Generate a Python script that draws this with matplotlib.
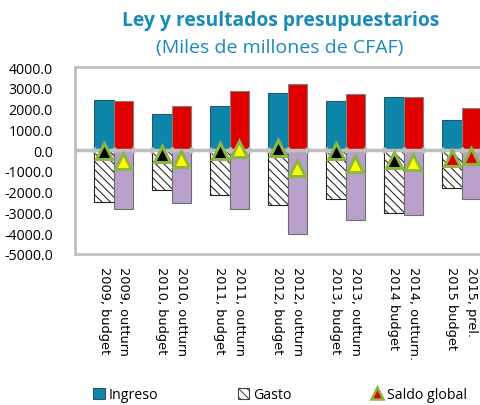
import numpy as np
import matplotlib
matplotlib.use("Agg")
import matplotlib.pyplot as plt
from matplotlib.patches import Patch
from matplotlib.lines import Line2D

years = ["2009", "2010", "2011", "2012", "2013", "2014", "2015"]
budget_labels = ["2009, budget", "2010, budget", "2011, budget", "2012, budget",
                 "2013, budget", "2014 budget", "2015 budget"]
outturn_labels = ["2009, outturn", "2010, outturn", "2011, outturn", "2012, outturn",
                  "2013, outturn", "2014, outturn.", "2015, prel."]

ingreso_budget = [2430, 1740, 2110, 2770, 2340, 2550, 1450]
ingreso_outturn = [2340, 2130, 2840, 3180, 2680, 2560, 2050]
gasto_budget = [-2500, -1920, -2150, -2660, -2370, -3010, -1810]
gasto_outturn = [-2850, -2560, -2820, -4060, -3370, -3130, -2340]
saldo_budget = [-60, -180, -40, 110, -30, -460, -360]
saldo_outturn = [-510, -430, 40, -880, -690, -570, -290]

BLUE = "#0E86AA"
RED = "#E00000"
PURPLE = "#B8A0CB"
GREEN = "#8DB545"
GRID = "#BFBFBF"
TITLE = "#1A8AB8"

plt.rcParams["hatch.linewidth"] = 0.75

fig = plt.figure(figsize=(4.81, 4.06), dpi=100)
ax = fig.add_axes([75 / 481, 1 - 255 / 406, 406 / 481, 187 / 406])

n = len(years)
xb = np.arange(n) * 3 + 1
xo = xb + 1

# budget columns
ax.bar(xb, ingreso_budget, width=1.0, color=BLUE, edgecolor="#2A5566", linewidth=0.8, zorder=2)
ax.bar(xb, gasto_budget, width=1.0, color="white", edgecolor="#222222", linewidth=0.8,
       hatch="\\\\\\\\", zorder=2)
# outturn columns
ax.bar(xo, ingreso_outturn, width=1.0, color=RED, edgecolor="#808080", linewidth=0.8, zorder=2)
ax.bar(xo, gasto_outturn, width=1.0, color=PURPLE, edgecolor="#6E6E6E", linewidth=0.8, zorder=2)

# zero line with category ticks
ax.axhline(0, color=GRID, lw=2.5, zorder=3)
bounds = np.arange(3 * n + 1) - 0.5
ax.vlines(bounds, -140, 140, color=GRID, lw=2.5, zorder=3)

# saldo markers
fc_b = ["black"] * 6 + [RED]
fc_o = ["yellow"] * 6 + [RED]
for i in range(n):
    ax.plot(xb[i], saldo_budget[i], marker="^", ms=11, mfc=fc_b[i], mec=GREEN, mew=2.2,
            linestyle="none", zorder=5, clip_on=False)
    ax.plot(xo[i], saldo_outturn[i], marker="^", ms=11, mfc=fc_o[i], mec=GREEN, mew=2.2,
            linestyle="none", zorder=5, clip_on=False)

ax.set_xlim(-0.5, 3 * n - 0.5)
ax.set_ylim(-5000, 4000)
ax.set_yticks(np.arange(-5000, 4001, 1000))
ax.set_yticklabels([f"{v:.1f}" for v in np.arange(-5000, 4001, 1000)],
                   fontsize=10.2, family="Open Sans")
ax.tick_params(axis="y", length=0, pad=16)

ticks = np.concatenate([xb, xo])
labels = budget_labels + outturn_labels
ax.set_xticks(ticks)
ax.set_xticklabels(labels, rotation=270, fontsize=9.3, family="DejaVu Sans",
                   va="top", ha="center")
ax.tick_params(axis="x", length=0, pad=9)

for s in ax.spines.values():
    s.set_color(GRID)
    s.set_linewidth(2)

fig.text(281 / 481, 1 - 21 / 406, "Ley y resultados presupuestarios", ha="center", va="center",
         fontsize=13.9, fontweight="bold", color=TITLE, family="Open Sans")
fig.text(280 / 481, 1 - 48 / 406, "(Miles de millones de CFAF)", ha="center", va="center",
         fontsize=14, color=TITLE, family="Open Sans")

handles = [
    Patch(facecolor=BLUE, edgecolor="#2A5566", linewidth=0.8),
    Patch(facecolor="white", edgecolor="#444444", hatch="\\\\\\\\", linewidth=0.8),
    Line2D([], [], marker="^", linestyle="none", ms=8, mfc=RED, mec=GREEN, mew=1.8),
]
fig.legend(handles, ["Ingreso", "Gasto", "Saldo global"], loc="center",
           bbox_to_anchor=(280 / 481, 1 - 396 / 406), ncol=3, frameon=False,
           prop={"family": "Open Sans", "size": 10.2}, handlelength=0.8, handleheight=0.8,
           handletextpad=0.3, columnspacing=5.6)

fig.savefig("out.png", dpi=100)
